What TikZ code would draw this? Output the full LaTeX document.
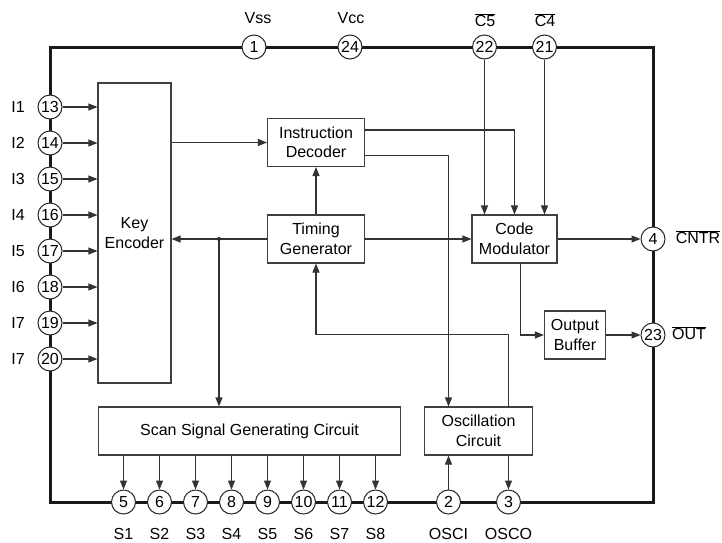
\documentclass[tikz,border=0pt]{standalone}
\usepackage{fontspec}
\setmainfont{Liberation Sans}
\usetikzlibrary{arrows.meta,calc}
\begin{document}
\begin{tikzpicture}[x=1pt,y=-1pt,
  every node/.style={font=\fontsize{16}{19.5}\selectfont},
  blk/.style={draw=black!75,line width=1.1pt,fill=white,align=center,inner sep=0pt},
  pin/.style={circle,draw=black!85,line width=1pt,fill=white,minimum size=24pt,inner sep=0pt},
  lab/.style={inner sep=0pt},
  ln/.style={draw=black!80,line width=1.1pt},
  arr/.style={ln,-{Triangle[length=9pt,width=7pt]}}]
\useasboundingbox (0,0) rectangle (722,542);
% outer chip border
\draw[line width=3pt,black!90] (50,47) rectangle (653,502);
% blocks
\node[blk,minimum width=73pt,minimum height=300pt] (KE) at (134.5,233) {Key\\Encoder};
\node[blk,minimum width=97pt,minimum height=48pt] (ID) at (316,142.5) {Instruction\\Decoder};
\node[blk,minimum width=97pt,minimum height=48pt] (TG) at (316,239) {Timing\\Generator};
\node[blk,minimum width=85pt,minimum height=48pt] (CM) at (514.5,239) {Code\\Modulator};
\node[blk,minimum width=61pt,minimum height=48pt] (OB) at (575,335) {Output\\Buffer};
\node[blk,minimum width=108pt,minimum height=48pt] (OC) at (478.5,431) {Oscillation\\Circuit};
\node[blk,minimum width=302pt,minimum height=48pt] (SC) at (249.5,431) {Scan Signal Generating Circuit};
% top pins
\node[pin] (p1) at (254,47) {1};
\node[pin] (p24) at (350,47) {24};
\node[pin] (p22) at (484.5,47) {22};
\node[pin] (p21) at (544.5,47) {21};
\node[lab] (lVss) at (258,18) {Vss};
\node[lab] (lVcc) at (351,18) {Vcc};
\node[lab] (lC5) at (485,20) {$\overline{\mbox{C5}}$};
\node[lab] (lC4) at (545,20) {$\overline{\mbox{C4}}$};
% left pins
\foreach \n/\l [count=\i from 0] in {13/I1,14/I2,15/I3,16/I4,17/I5,18/I6,19/I7,20/I7}{
  \node[pin] (p\n) at (50,{107+36*\i}) {\n};
  \node[lab] (l\n) at (18,{107+36*\i}) {\l};
  \draw[arr] (p\n) -- (p\n -| KE.west);
}
% right pins
\node[pin] (p4) at (653,239) {4};
\node[pin] (p23) at (653,335) {23};
\node[lab] (lCNTR) at (698,237) {$\overline{\mbox{CNTR}}$};
\node[lab] (lOUT) at (689,333) {$\overline{\mbox{OUT}}$};
% bottom pins
\foreach \n/\l [count=\i from 0] in {5/S1,6/S2,7/S3,8/S4,9/S5,10/S6,11/S7,12/S8}{
  \node[pin] (p\n) at ({123.5+36*\i},502) {\n};
  \node[lab] (l\n) at ({123.5+36*\i},534) {\l};
  \draw[arr] (SC.south -| p\n) -- (p\n);
}
\node[pin] (p2) at (448.5,502) {2};
\node[pin] (p3) at (508.5,502) {3};
\node[lab] (lOSCI) at (448.5,534) {OSCI};
\node[lab] (lOSCO) at (508.5,534) {OSCO};
% connectors
\draw[arr] (ID.west -| KE.east) -- (ID.west);
\draw[arr] (TG.north) -- (ID.south);
\coordinate (dot) at (219,239);
\draw[arr] (TG.west) -- (TG.west -| KE.east);
\fill[black!85] (dot) circle (2pt);
\draw[arr] (dot) -- (dot |- SC.north);
\draw[arr] (TG.east) -- (CM.west);
\draw[arr] (p22) -- (p22 |- CM.north);
\draw[arr] (p21) -- (p21 |- CM.north);
\draw[arr] ($(ID.north east)+(0,12)$) -| (CM.north);
\draw[arr] ($(ID.south east)+(0,-12)$) -| ([xshift=-30pt]OC.north);
\draw[arr] (CM.east) -- (p4);
\draw[arr] ([xshift=6pt]CM.south) |- (OB.west);
\draw[arr] (OB.east) -- (p23);
\draw[arr] ([xshift=30pt]OC.north) -- ++(0,-72) -| (TG.south);
\draw[arr] (p2) -- (p2 |- OC.south);
\draw[arr] (OC.south -| p3) -- (p3);
\end{tikzpicture}
\end{document}
